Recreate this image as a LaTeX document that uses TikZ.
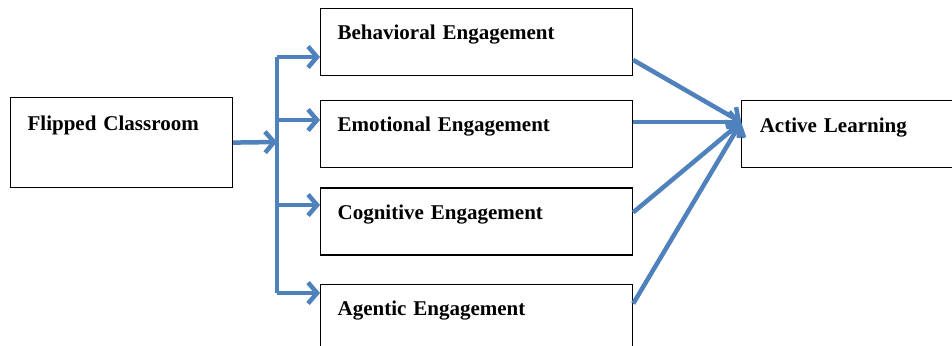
\documentclass[tikz,border=0pt]{standalone}
\usepackage{fontspec}
\setmainfont{Liberation Serif}
\usepackage{xcolor}
\usetikzlibrary{arrows.meta, calc, positioning}
\definecolor{linkblue}{RGB}{79,129,189}
\tikzset{EngageChart/.style={
    x = 1pt, y = 1pt,
    node distance = 22pt and 110pt,
    base/.style = {draw, line width=1.2pt, align=left, anchor=north west, inner xsep=17pt, inner ysep=0pt,
        font=\fontsize{21}{24}\selectfont\bfseries},
    process/.style = {base, text width=278pt, text height=31pt, text depth=36pt},
    link/.style = {draw=linkblue, line width=4.5pt, -{Straight Barb[length=9pt, width=21pt]}},
    bus/.style = {draw=linkblue, line width=4.5pt}
}}

\begin{document}
\begin{tikzpicture}[EngageChart]
        \useasboundingbox (0,0) rectangle (952,-345);
        \node [process] (BE) at (320,-8) {Behavioral Engagement};
        \node [process, below=24pt of BE] (EE) {Emotional Engagement};
        \node [process, below=19pt of EE] (CE) {Cognitive Engagement};
        \node [process, below=28pt of CE] (AE) {Agentic Engagement};
        \node [base, text width=188pt, text height=33pt, text depth=57pt] (FC) at (10,-97) {Flipped Classroom};
        \node [base, text width=176pt, inner xsep=18pt, text height=32pt, text depth=35pt, right=108pt of EE] (AL) {Active Learning};

        \coordinate (b0) at (277,-142);
        \coordinate (b1) at (277,-57);
        \coordinate (b2) at (277,-120);
        \coordinate (b3) at (277,-205);
        \coordinate (b4) at (277,-293);
        \coordinate (tip) at ($(AL.north west)+(0,-22)$);

        \draw [bus] (b1) -- (b4);
        \draw [link] (FC.east) -- (b0);
        \draw [link] (b1) -- (b1 -| BE.west);
        \draw [link] (b2) -- (b2 -| EE.west);
        \draw [link] (b3) -- (b3 -| CE.west);
        \draw [link] (b4) -- (b4 -| AE.west);

        \draw [link] ($(BE.north east)+(0,-52)$) -- (tip);
        \draw [link] ($(EE.north east)+(0,-22)$) -- (tip);
        \draw [link] ($(CE.north east)+(0,-25)$) -- (tip);
        \draw [link] ($(AE.north east)+(0,-20)$) -- (tip);
    \end{tikzpicture}
\end{document}
